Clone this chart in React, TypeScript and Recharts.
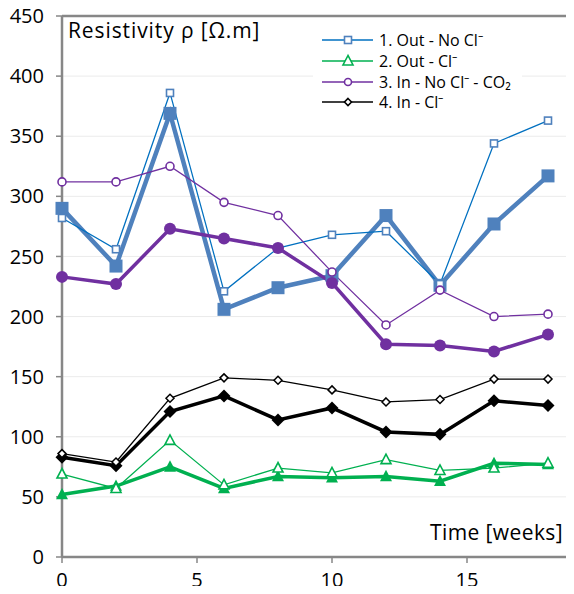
import React from 'react';
import { LineChart, Line, XAxis, YAxis, CartesianGrid, ReferenceLine } from 'recharts';

const weeks = [0, 2, 4, 6, 8, 10, 12, 14, 16, 18];

// thin lines = open markers (shown in legend), thick lines = filled markers
const outNoClThin = [282, 256, 386, 221, 257, 268, 271, 227, 344, 363];
const outNoClThick = [290, 242, 369, 206, 224, 234, 284, 226, 277, 317];
const outClThin = [69, 57, 97, 60, 74, 70, 81, 72, 74, 78];
const outClThick = [52, 59, 75, 57, 67, 66, 67, 63, 78, 77];
const inNoClThin = [312, 312, 325, 295, 284, 237, 193, 222, 200, 202];
const inNoClThick = [233, 227, 273, 265, 257, 228, 177, 176, 171, 185];
const inClThin = [86, 79, 132, 149, 147, 139, 129, 131, 148, 148];
const inClThick = [83, 76, 121, 134, 114, 124, 104, 102, 130, 126];

const yTicks = [0, 50, 100, 150, 200, 250, 300, 350, 400, 450];
const xTicks = [0, 5, 10, 15];

const legendItems = [
  { label: '1. Out - No Cl⁻', color: '#4F81BD', line: '#0070C0', shape: 'square' },
  { label: '2. Out - Cl⁻', color: '#00B050', line: '#00B050', shape: 'triangle' },
  { label: '3. In - No Cl⁻ - CO₂', color: '#7030A0', line: '#7030A0', shape: 'circle' },
  { label: '4. In - Cl⁻', color: '#000000', line: '#000000', shape: 'diamond' },
];

const data = weeks.map((w, i) => ({
  week: w,
  outNoClThin: outNoClThin[i],
  outNoClThick: outNoClThick[i],
  outClThin: outClThin[i],
  outClThick: outClThick[i],
  inNoClThin: inNoClThin[i],
  inNoClThick: inNoClThick[i],
  inClThin: inClThin[i],
  inClThick: inClThick[i],
}));

const FONT = '"Open Sans", sans-serif';
const AXIS = '#878787';

function Mark({ cx, cy, shape, size, filled, color, sw = 1.5 }: any) {
  if (cx == null || cy == null) return null;
  const fill = filled ? color : '#fff';
  const h = size / 2;
  if (shape === 'square') {
    return <rect x={cx - h} y={cy - h} width={size} height={size} fill={fill} stroke={color} strokeWidth={sw} />;
  }
  if (shape === 'circle') {
    return <circle cx={cx} cy={cy} r={h} fill={fill} stroke={color} strokeWidth={sw} />;
  }
  if (shape === 'triangle') {
    const pts = `${cx},${cy - size * 0.55} ${cx - h},${cy + size * 0.4} ${cx + h},${cy + size * 0.4}`;
    return <polygon points={pts} fill={fill} stroke={color} strokeWidth={sw} strokeLinejoin="miter" />;
  }
  const pts = `${cx},${cy - h} ${cx + h},${cy} ${cx},${cy + h} ${cx - h},${cy}`;
  return <polygon points={pts} fill={fill} stroke={color} strokeWidth={sw} />;
}

const dot = (shape: string, size: number, filled: boolean, color: string, sw = 1.5) => (p: any) => (
  <Mark key={`${p.dataKey}-${p.index}`} cx={p.cx} cy={p.cy} shape={shape} size={size} filled={filled} color={color} sw={sw} />
);

function ChartLegend() {
  return (
    <div
      style={{
        position: 'absolute',
        left: 313,
        top: 30,
        width: 209,
        background: '#fff',
        fontFamily: FONT,
        fontSize: 16,
        color: '#000',
        paddingBottom: 2,
      }}
    >
      {legendItems.map(item => (
        <div key={item.label} style={{ display: 'flex', alignItems: 'center', height: 20.7 }}>
          <svg width={66} height={16} style={{ flex: 'none' }}>
            <line x1={9} y1={8} x2={60} y2={8} stroke={item.line} strokeWidth={1.5} />
            <Mark cx={35} cy={8} shape={item.shape} size={item.shape === 'triangle' ? 10 : 7} filled={false} color={item.color} sw={1.6} />
          </svg>
          <span style={{ whiteSpace: 'nowrap' }}>{item.label}</span>
        </div>
      ))}
    </div>
  );
}

export default function App() {
  const tick = { fontFamily: FONT, fontSize: 20, fill: '#000' };
  return (
    <div style={{ position: 'relative', width: 574, height: 594, overflow: 'hidden', margin: -8, background: '#fff' }}>
      <LineChart width={602} height={594} data={data} margin={{ top: 16, right: 0, left: 0, bottom: 0 }}>
        <CartesianGrid horizontal vertical={false} stroke="#EBEBEB" strokeWidth={1} />
        <XAxis
          type="number"
          dataKey="week"
          domain={[0, 20]}
          ticks={xTicks}
          height={37}
          tick={tick}
          tickSize={6}
          tickMargin={10}
          tickLine={{ stroke: AXIS, strokeWidth: 1.5 }}
          axisLine={{ stroke: AXIS, strokeWidth: 2.5 }}
        />
        <YAxis
          type="number"
          domain={[0, 450]}
          ticks={yTicks}
          width={62}
          tick={tick}
          tickSize={6}
          tickMargin={12}
          tickLine={{ stroke: AXIS, strokeWidth: 1.5 }}
          axisLine={{ stroke: AXIS, strokeWidth: 2.5 }}
        />
        <ReferenceLine y={450} stroke={AXIS} strokeWidth={2.5} />

        <Line dataKey="outNoClThick" stroke="#4F81BD" strokeWidth={4.5} dot={dot('square', 13, true, '#4F81BD', 0)} isAnimationActive={false} />
        <Line dataKey="outNoClThin" stroke="#0070C0" strokeWidth={1.25} dot={dot('square', 7, false, '#4F81BD', 1.6)} isAnimationActive={false} />
        <Line dataKey="outClThick" stroke="#00B050" strokeWidth={3.5} dot={dot('triangle', 12, true, '#00B050', 0)} isAnimationActive={false} />
        <Line dataKey="outClThin" stroke="#00B050" strokeWidth={1.25} dot={dot('triangle', 10, false, '#00B050', 1.6)} isAnimationActive={false} />
        <Line dataKey="inNoClThick" stroke="#7030A0" strokeWidth={3.5} dot={dot('circle', 12, true, '#7030A0', 0)} isAnimationActive={false} />
        <Line dataKey="inNoClThin" stroke="#7030A0" strokeWidth={1.25} dot={dot('circle', 8, false, '#7030A0', 1.6)} isAnimationActive={false} />
        <Line dataKey="inClThick" stroke="#000" strokeWidth={3.5} dot={dot('diamond', 13, true, '#000', 0)} isAnimationActive={false} />
        <Line dataKey="inClThin" stroke="#000" strokeWidth={1.25} dot={dot('diamond', 8, false, '#000', 1.5)} isAnimationActive={false} />
      </LineChart>

      <div style={{ position: 'absolute', left: 68, top: 16, fontFamily: FONT, fontSize: 21, letterSpacing: 0.9, color: '#000', whiteSpace: 'nowrap', lineHeight: 'normal' }}>
        Resistivity ρ [Ω.m]
      </div>
      <div style={{ position: 'absolute', left: 430, top: 518, fontFamily: FONT, fontSize: 21, letterSpacing: 0.4, color: '#000', whiteSpace: 'nowrap', lineHeight: 'normal' }}>
        Time [weeks]
      </div>
      <ChartLegend />
    </div>
  );
}
